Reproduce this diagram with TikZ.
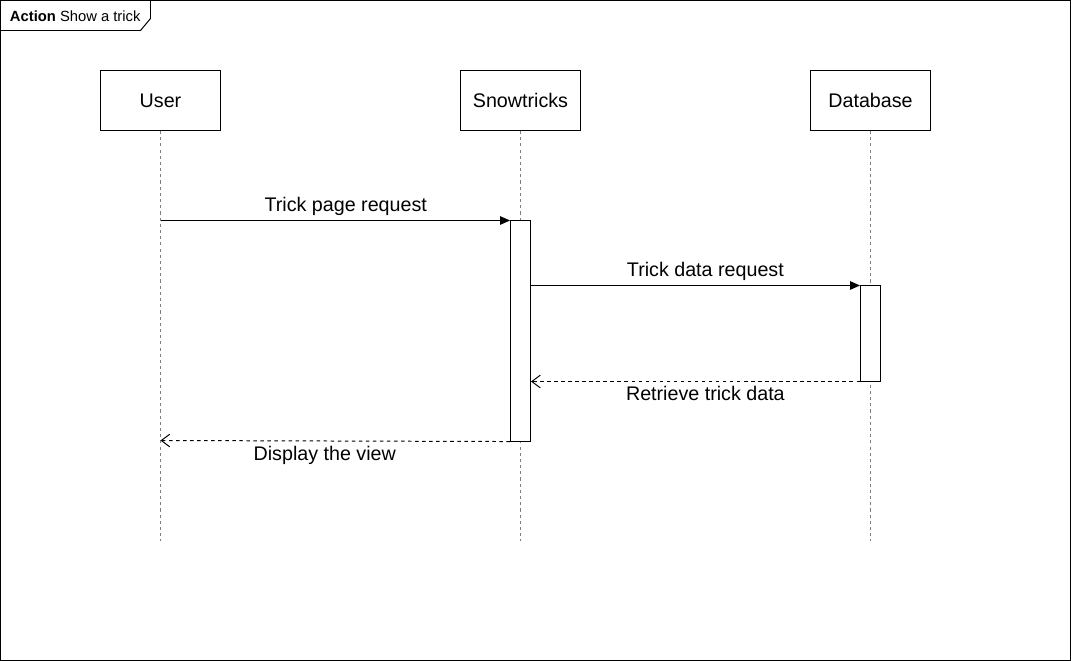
\documentclass[tikz,border=0pt]{standalone}
\usepackage{fontspec}
\setmainfont{Liberation Sans}
\usetikzlibrary{arrows.meta}
\tikzset{
  lifehead/.style={
    draw,
    minimum width=3cm,
    minimum height=1.5cm,
    font=\fontsize{14}{16}\selectfont},
  actbox/.style={
    draw,
    fill=white,
    inner sep=0pt,
    anchor=north,
    minimum width=0.5cm},
  life/.style={
    dashed,
    dash pattern=on 2.2pt off 2.2pt,
    gray},
  msg/.style={
    -{Triangle[length=7pt,width=6pt]},
    font=\fontsize{14}{16}\selectfont},
  ret/.style={
    dashed,
    dash pattern=on 2.5pt off 2.5pt,
    -{Straight Barb[length=6pt,width=9pt]},
    font=\fontsize{14}{16}\selectfont}
  }
\begin{document}
\begin{tikzpicture}[x=0.025cm, y=-0.025cm, line width=0.7pt]
    \useasboundingbox (-0.5,-0.5) rectangle (1070.5,660.5);
    \draw (0,0) rectangle (1070,660);
    \draw (0,30) -- (140,30) -- (150,18) -- (150,0);
    \node[anchor=west, inner sep=0pt, font=\fontsize{10.5}{12}\selectfont] (frame) at (9,16) {\textbf{Action} Show a trick};
    \node[lifehead] (user) at (160,100) {User};
    \node[lifehead] (snow) at (520,100) {Snowtricks};
    \node[lifehead] (db) at (870,100) {Database};
    \coordinate (userend) at (160,540);
    \coordinate (snowend) at (520,540);
    \coordinate (dbend) at (870,540);
    \draw [life]
    (user) edge[] (userend)
    (snow) edge[] (snowend)
    (db) edge[] (dbend);
    \node[actbox, minimum height=5.5cm] (snowact) at (520,220) {};
    \node[actbox, minimum height=2.375cm] (dbact) at (870,285) {};
    \coordinate (u1) at (160,220);
    \coordinate (u2) at (160,440);
    \draw [msg] (u1) -- node[above, pos=0.53]{Trick page request} (snowact.north west);
    \draw [msg] (snowact.east |- dbact.north) -- node[above, pos=0.53]{Trick data request} (dbact.north west);
    \draw [ret] (dbact.south west) -- node[below, pos=0.47]{Retrieve trick data} (snowact.east |- dbact.south);
    \draw [ret] (snowact.south west) -- node[below, pos=0.53]{Display the view} (u2);
  \end{tikzpicture}
\end{document}
